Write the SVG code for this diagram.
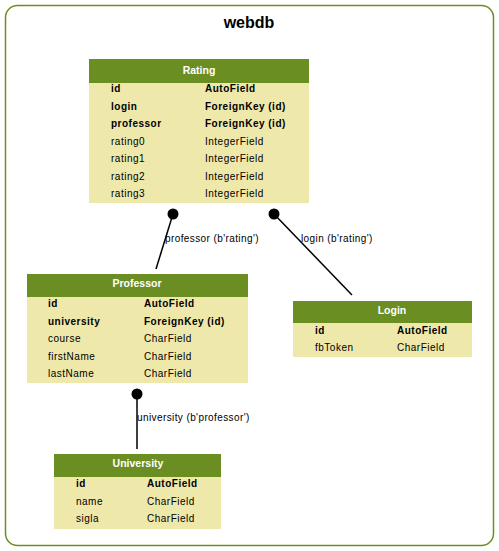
<svg xmlns="http://www.w3.org/2000/svg" width="499" height="551" viewBox="0 0 499 551">
<style>
text{font-family:"Liberation Sans",Arial,sans-serif;fill:#000}
.hd{fill:#6b8e23}
.bd{fill:#eee8aa}
.ht{font-size:10.5px;font-weight:bold;fill:#fff;text-anchor:middle}
.r{font-size:10px;letter-spacing:0.5px}
.b{font-weight:bold}
.lb{font-size:10px;letter-spacing:0.4px}
.ln{stroke:#000;stroke-width:1.5;fill:none}
</style>
<rect x="5.5" y="5.5" width="488" height="540" rx="12" ry="12" fill="#fff" stroke="#6b8e23" stroke-width="1.5"/>
<text x="249" y="28" font-size="16" font-weight="bold" text-anchor="middle">webdb</text>
<g id="connectors">
<line class="ln" x1="173" y1="214" x2="156" y2="269"/>
<circle cx="173" cy="214" r="5.5"/>
<text class="lb" x="165" y="242">professor (b'rating')</text>
<line class="ln" x1="274" y1="214" x2="352" y2="295"/>
<circle cx="274" cy="214" r="5.5"/>
<text class="lb" x="301" y="242">login (b'rating')</text>
<line class="ln" x1="137" y1="394" x2="137" y2="449"/>
<circle cx="137" cy="394" r="5.5"/>
<text class="lb" x="137" y="421">university (b'professor')</text>
</g>
<g id="Rating">
<rect class="bd" x="89" y="82" width="220" height="121"/>
<rect class="hd" x="89" y="59" width="220" height="24"/>
<text class="ht" x="199" y="74">Rating</text>
<text class="r b" x="111" y="92">id</text><text class="r b" x="205" y="92">AutoField</text>
<text class="r b" x="111" y="110">login</text><text class="r b" x="205" y="110">ForeignKey (id)</text>
<text class="r b" x="111" y="127">professor</text><text class="r b" x="205" y="127">ForeignKey (id)</text>
<text class="r" x="111" y="145">rating0</text><text class="r" x="205" y="145">IntegerField</text>
<text class="r" x="111" y="162">rating1</text><text class="r" x="205" y="162">IntegerField</text>
<text class="r" x="111" y="180">rating2</text><text class="r" x="205" y="180">IntegerField</text>
<text class="r" x="111" y="197">rating3</text><text class="r" x="205" y="197">IntegerField</text>
</g>
<g id="Professor">
<rect class="bd" x="27" y="296" width="221" height="87"/>
<rect class="hd" x="27" y="274" width="221" height="23"/>
<text class="ht" x="137" y="287">Professor</text>
<text class="r b" x="48" y="307">id</text><text class="r b" x="144" y="307">AutoField</text>
<text class="r b" x="48" y="325">university</text><text class="r b" x="144" y="325">ForeignKey (id)</text>
<text class="r" x="48" y="342">course</text><text class="r" x="144" y="342">CharField</text>
<text class="r" x="48" y="360">firstName</text><text class="r" x="144" y="360">CharField</text>
<text class="r" x="48" y="377">lastName</text><text class="r" x="144" y="377">CharField</text>
</g>
<g id="Login">
<rect class="bd" x="293" y="322" width="179" height="35"/>
<rect class="hd" x="293" y="301" width="179" height="22"/>
<text class="ht" x="392" y="314">Login</text>
<text class="r b" x="315" y="334">id</text><text class="r b" x="397" y="334">AutoField</text>
<text class="r" x="315" y="351">fbToken</text><text class="r" x="397" y="351">CharField</text>
</g>
<g id="University">
<rect class="bd" x="54" y="476" width="167" height="53"/>
<rect class="hd" x="54" y="454" width="167" height="23"/>
<text class="ht" x="138" y="467">University</text>
<text class="r b" x="76" y="487">id</text><text class="r b" x="147" y="487">AutoField</text>
<text class="r" x="76" y="505">name</text><text class="r" x="147" y="505">CharField</text>
<text class="r" x="76" y="522">sigla</text><text class="r" x="147" y="522">CharField</text>
</g>
</svg>
